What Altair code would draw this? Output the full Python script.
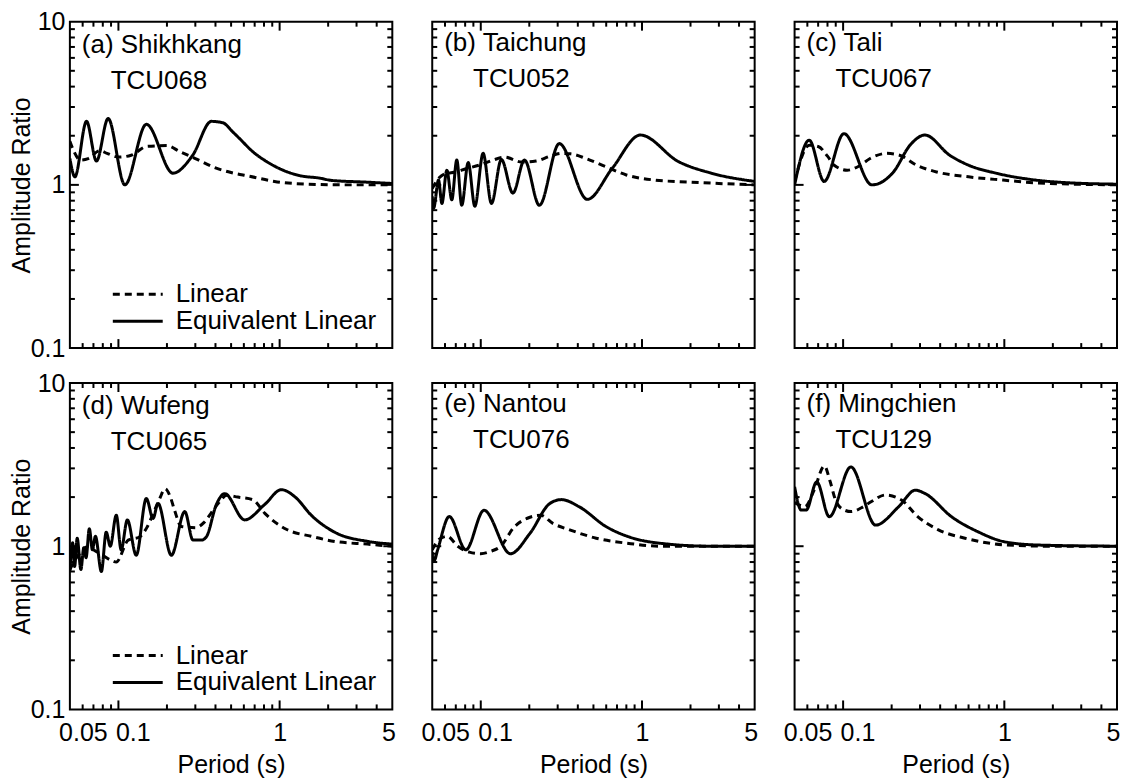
import altair as alt
import pandas as pd

SERIES = ["Linear", "Equivalent Linear"]
PANEL_TITLES = ["(a) Shikhkang", "(b) Taichung", "(c) Tali",
                "(d) Wufeng", "(e) Nantou", "(f) Mingchien"]
STATIONS = ["TCU068", "TCU052", "TCU067", "TCU065", "TCU076", "TCU129"]

X_LABELS = [0.05, 0.1, 1, 5]
X_MAJOR = [0.1, 1]
X_MINOR = [0.06, 0.07, 0.08, 0.09, 0.2, 0.3, 0.4, 0.5, 0.6, 0.7, 0.8, 0.9,
           2, 3, 4]
Y_LABELS = [0.1, 1, 10]
Y_MAJOR = [1]
Y_MINOR = [0.2, 0.3, 0.4, 0.5, 0.6, 0.7, 0.8, 0.9, 2, 3, 4, 5, 6, 7, 8, 9]

# (a) Shikhkang TCU068
a_lin_T = [0.05, 0.053, 0.058, 0.065, 0.0767, 0.085, 0.1, 0.12, 0.15, 0.2,
           0.24, 0.3, 0.4, 0.5, 0.65, 0.93, 1.5, 2.5, 5]
a_lin_A = [1.85, 1.6, 1.42, 1.45, 1.62, 1.56, 1.48, 1.52, 1.72, 1.74,
           1.6, 1.45, 1.27, 1.19, 1.13, 1.05, 1.01, 1.0, 1.0]
a_eq_T = [0.05, 0.0537, 0.0634, 0.0731, 0.0863, 0.1096, 0.149, 0.218, 0.289,
          0.377, 0.445, 0.51, 0.565, 0.68, 0.83, 1.05, 1.33, 1.77, 2.1, 3.4, 5]
a_eq_A = [1.45, 1.12, 2.45, 1.40, 2.55, 1.0, 2.35, 1.18, 1.52,
          2.45, 2.4, 2.12, 1.92, 1.6, 1.39, 1.23, 1.14, 1.1, 1.065, 1.04, 1.02]

# (b) Taichung TCU052
b_lin_T = [0.05, 0.055, 0.06, 0.07, 0.08, 0.1, 0.12, 0.14, 0.18, 0.22, 0.27,
           0.32, 0.36, 0.45, 0.6, 0.8, 1.2, 2.0, 3.0, 5]
b_lin_A = [0.95, 1.1, 1.17, 1.2, 1.25, 1.33, 1.42, 1.48, 1.38, 1.4, 1.5,
           1.56, 1.55, 1.45, 1.29, 1.15, 1.07, 1.04, 1.02, 1.0]
b_eq_T = [0.05, 0.051, 0.0547, 0.0574, 0.0616, 0.0661, 0.071, 0.0762, 0.0836,
          0.0919, 0.1034, 0.1165, 0.1342, 0.1582, 0.1867, 0.231, 0.3067,
          0.458, 0.653, 0.976, 1.68, 2.69, 5]
b_eq_A = [0.85, 0.72, 1.07, 0.77, 1.23, 0.81, 1.42, 0.75, 1.37,
          0.74, 1.56, 0.77, 1.43, 0.89, 1.42, 0.75, 1.79,
          0.815, 1.26, 2.02, 1.39, 1.18, 1.05]

# (c) Tali TCU067
c_lin_T = [0.05, 0.0616, 0.07, 0.08, 0.088, 0.106, 0.125, 0.147, 0.187, 0.224,
           0.286, 0.38, 0.6, 0.98, 1.56, 5]
c_lin_A = [1.05, 1.75, 1.72, 1.5, 1.32, 1.23, 1.3, 1.45, 1.56, 1.52,
           1.32, 1.2, 1.12, 1.07, 1.03, 1.0]
c_eq_T = [0.05, 0.0616, 0.0762, 0.1011, 0.151, 0.2053, 0.26, 0.3214, 0.458,
          0.6, 0.887, 1.56, 2.5, 5]
c_eq_A = [1.0, 1.88, 1.05, 2.06, 1.0, 1.2, 1.75, 2.02, 1.52,
          1.32, 1.18, 1.07, 1.03, 1.01]

# (d) Wufeng TCU065
d_lin_T = [0.05, 0.055, 0.06, 0.065, 0.07, 0.08, 0.09, 0.097, 0.115, 0.135,
           0.15, 0.165, 0.18, 0.195, 0.21, 0.223, 0.246, 0.3, 0.34, 0.375,
           0.42, 0.47, 0.55, 0.68, 0.81, 1.1, 1.57, 2.2, 3.5, 5]
d_lin_A = [0.72, 0.85, 0.95, 1.0, 0.95, 0.88, 0.82, 0.8, 1.09, 1.14,
           1.3, 1.6, 1.95, 2.25, 2.0, 1.66, 1.32, 1.3, 1.4, 1.59,
           1.85, 2.05, 2.0, 1.93, 1.59, 1.27, 1.15, 1.07, 1.03, 1.0]
d_eq_T = [0.05, 0.052, 0.0535, 0.0555, 0.0585, 0.061, 0.063, 0.066, 0.069,
          0.072, 0.0784, 0.084, 0.089, 0.097, 0.104, 0.1136, 0.129, 0.149,
          0.164, 0.176, 0.213, 0.258, 0.29, 0.327, 0.351, 0.405, 0.456, 0.607,
          0.807, 1.025, 1.25, 1.57, 2.19, 3.53, 5]
d_eq_A = [0.70, 1.05, 0.75, 1.12, 0.72, 0.98, 0.85, 1.28, 0.95,
          1.15, 0.70, 1.22, 1.0, 1.55, 0.95, 1.45, 0.88, 1.96,
          1.48, 1.83, 0.88, 1.63, 1.09, 1.09, 1.14, 1.8, 2.1, 1.45,
          1.8, 2.22, 2.0, 1.55, 1.22, 1.07, 1.03]

# (e) Nantou TCU076
e_lin_T = [0.05, 0.055, 0.062, 0.072, 0.085, 0.1, 0.115, 0.133, 0.16, 0.2,
           0.235, 0.28, 0.356, 0.52, 0.83, 1.33, 5]
e_lin_A = [0.95, 1.1, 1.15, 1.0, 0.92, 0.9, 0.93, 1.0, 1.3, 1.5,
           1.55, 1.38, 1.26, 1.12, 1.04, 1.0, 1.0]
e_eq_T = [0.05, 0.0515, 0.054, 0.0638, 0.0808, 0.1047, 0.1527, 0.202, 0.2685,
          0.317, 0.41, 0.598, 0.832, 1.33, 2.7, 5]
e_eq_A = [0.92, 0.82, 0.95, 1.52, 0.95, 1.66, 0.9, 1.2, 1.83,
          1.93, 1.74, 1.32, 1.14, 1.04, 1.0, 1.0]

# (f) Mingchien TCU129
f_lin_T = [0.05, 0.058, 0.066, 0.0765, 0.083, 0.0897, 0.1, 0.112, 0.13, 0.15,
           0.183, 0.23, 0.29, 0.39, 0.57, 1.0, 2.0, 5]
f_lin_A = [1.85, 1.75, 2.2, 3.1, 2.5, 1.92, 1.68, 1.63, 1.72, 1.88,
           2.06, 1.92, 1.52, 1.26, 1.12, 1.02, 1.0, 1.0]
f_eq_T = [0.05, 0.055, 0.059, 0.0686, 0.0821, 0.1117, 0.159, 0.221, 0.2806,
          0.323, 0.471, 0.687, 1.0, 1.61, 5]
f_eq_A = [2.31, 1.665, 1.665, 2.48, 1.515, 3.06, 1.347, 1.745, 2.205,
          2.1, 1.515, 1.226, 1.065, 1.017, 1.0]

DATA = [
    (a_lin_T, a_lin_A, a_eq_T, a_eq_A),
    (b_lin_T, b_lin_A, b_eq_T, b_eq_A),
    (c_lin_T, c_lin_A, c_eq_T, c_eq_A),
    (d_lin_T, d_lin_A, d_eq_T, d_eq_A),
    (e_lin_T, e_lin_A, e_eq_T, e_eq_A),
    (f_lin_T, f_lin_A, f_eq_T, f_eq_A),
]

FONT = "Liberation Sans"
W, H = 323, 327
MAJ, MIN = 9, 5
INDENT = "\u200b" + "\u00a0" * 4

xs = alt.Scale(type="log", domain=[0.05, 5], nice=False)
ys = alt.Scale(type="log", domain=[0.1, 10], nice=False)
dash_scale = alt.Scale(domain=SERIES, range=[[7, 5], [1, 0]])


def x_axis(labels):
    kw = dict(values=X_LABELS, orient="bottom", ticks=False, tickSize=0,
              domain=False, grid=False)
    if labels:
        kw.update(labels=True, format="~g", labelFont=FONT,
                  labelFontSize=25, labelColor="black", labelPadding=11,
                  labelFlush=False,
                  labelAlign=alt.ExprRef(expr="datum.value == 0.1 ? 'left' : 'center'"),
                  labelOffset=alt.ExprRef(expr="datum.value == 0.05 ? 13 : (datum.value == 0.1 ? -3 : (datum.value == 5 ? -4 : 0))"),
                  title="Period (s)", titleFont=FONT, titleFontSize=25,
                  titleFontWeight="normal", titleColor="black", titlePadding=7)
    else:
        kw.update(labels=False, title=None)
    return alt.Axis(**kw)


def y_axis(labels):
    kw = dict(values=Y_LABELS, orient="left", ticks=False, tickSize=0,
              domain=False, grid=False)
    if labels:
        kw.update(labels=True, format="~g", labelFont=FONT,
                  labelFontSize=25, labelColor="black", labelPadding=5,
                  labelFlush=False,
                  title="Amplitude Ratio", titleFont=FONT, titleFontSize=25,
                  titleFontWeight="normal", titleColor="black",
                  titleX=-48, titleY=H / 2, titleBaseline="middle")
    else:
        kw.update(labels=False, title=None)
    return alt.Axis(**kw)


def x_ticks(values, size, axis):
    base = alt.Chart(pd.DataFrame({"T": values})).mark_rule(
        color="black", strokeWidth=2)
    x = alt.X("T:Q", scale=xs, axis=axis)
    return [base.encode(x=x, y=alt.value(H), y2=alt.value(H - size)),
            base.encode(x=x, y=alt.value(0), y2=alt.value(size))]


def y_ticks(values, size, axis):
    base = alt.Chart(pd.DataFrame({"A": values})).mark_rule(
        color="black", strokeWidth=2)
    y = alt.Y("A:Q", scale=ys, axis=axis)
    return [base.encode(y=y, x=alt.value(0), x2=alt.value(size)),
            base.encode(y=y, x=alt.value(W), x2=alt.value(W - size))]


panels = []
for i in range(6):
    lin_T, lin_A, eq_T, eq_A = DATA[i]
    df_lin = pd.DataFrame({"T": lin_T, "A": lin_A, "series": SERIES[0]})
    df_eq = pd.DataFrame({"T": eq_T, "A": eq_A, "series": SERIES[1]})
    left_col = i % 3 == 0
    bottom_row = i >= 3
    xa = x_axis(bottom_row)
    ya = y_axis(left_col)
    if left_col:
        leg = alt.Legend(orient="none", legendX=55, legendY=260, title=None,
                         symbolType="M-4,0H4", symbolSize=156.25,
                         symbolStrokeWidth=3, symbolStrokeColor="black",
                         labelFont=FONT, labelFontSize=26, labelColor="black",
                         labelOffset=25, labelLimit=0, rowPadding=1, padding=0)
    else:
        leg = None
    dash = alt.StrokeDash("series:N", scale=dash_scale, legend=leg)
    line_kw = dict(color="black", strokeWidth=3, interpolate="monotone", clip=True)

    lin = alt.Chart(df_lin).mark_line(**line_kw).encode(
        x=alt.X("T:Q", scale=xs, axis=xa),
        y=alt.Y("A:Q", scale=ys, axis=ya),
        strokeDash=dash,
    )
    eq = alt.Chart(df_eq).mark_line(**line_kw).encode(
        x=alt.X("T:Q", scale=xs, axis=xa),
        y=alt.Y("A:Q", scale=ys, axis=ya),
        strokeDash=dash,
    )
    tick_layers = (x_ticks(X_MAJOR, MAJ, xa) + x_ticks(X_MINOR, MIN, xa)
                   + y_ticks(Y_MAJOR, MAJ, ya) + y_ticks(Y_MINOR, MIN, ya))
    title = alt.TitleParams(
        text=PANEL_TITLES[i], subtitle=INDENT + STATIONS[i],
        anchor="start", frame="group", orient="top",
        offset=-84 if left_col else -71, dx=12,
        font=FONT, fontSize=26, fontWeight="normal", color="black",
        subtitleFont=FONT, subtitleFontSize=26, subtitleColor="black",
        subtitlePadding=10,
    )
    p = alt.layer(lin, eq, *tick_layers).properties(
        width=W, height=H, title=title)
    panels.append(p)

chart = alt.concat(
    *panels, columns=3, spacing={"row": 35, "column": 40}, bounds="flush"
).resolve_scale(
    x="independent", y="independent", strokeDash="independent"
).properties(
    padding={"left": 1, "top": 0, "right": 0, "bottom": 0},
    background="white",
).configure_view(
    stroke="black", strokeWidth=2
)

chart.save("out.html", embed_options={"renderer": "svg", "actions": False})
